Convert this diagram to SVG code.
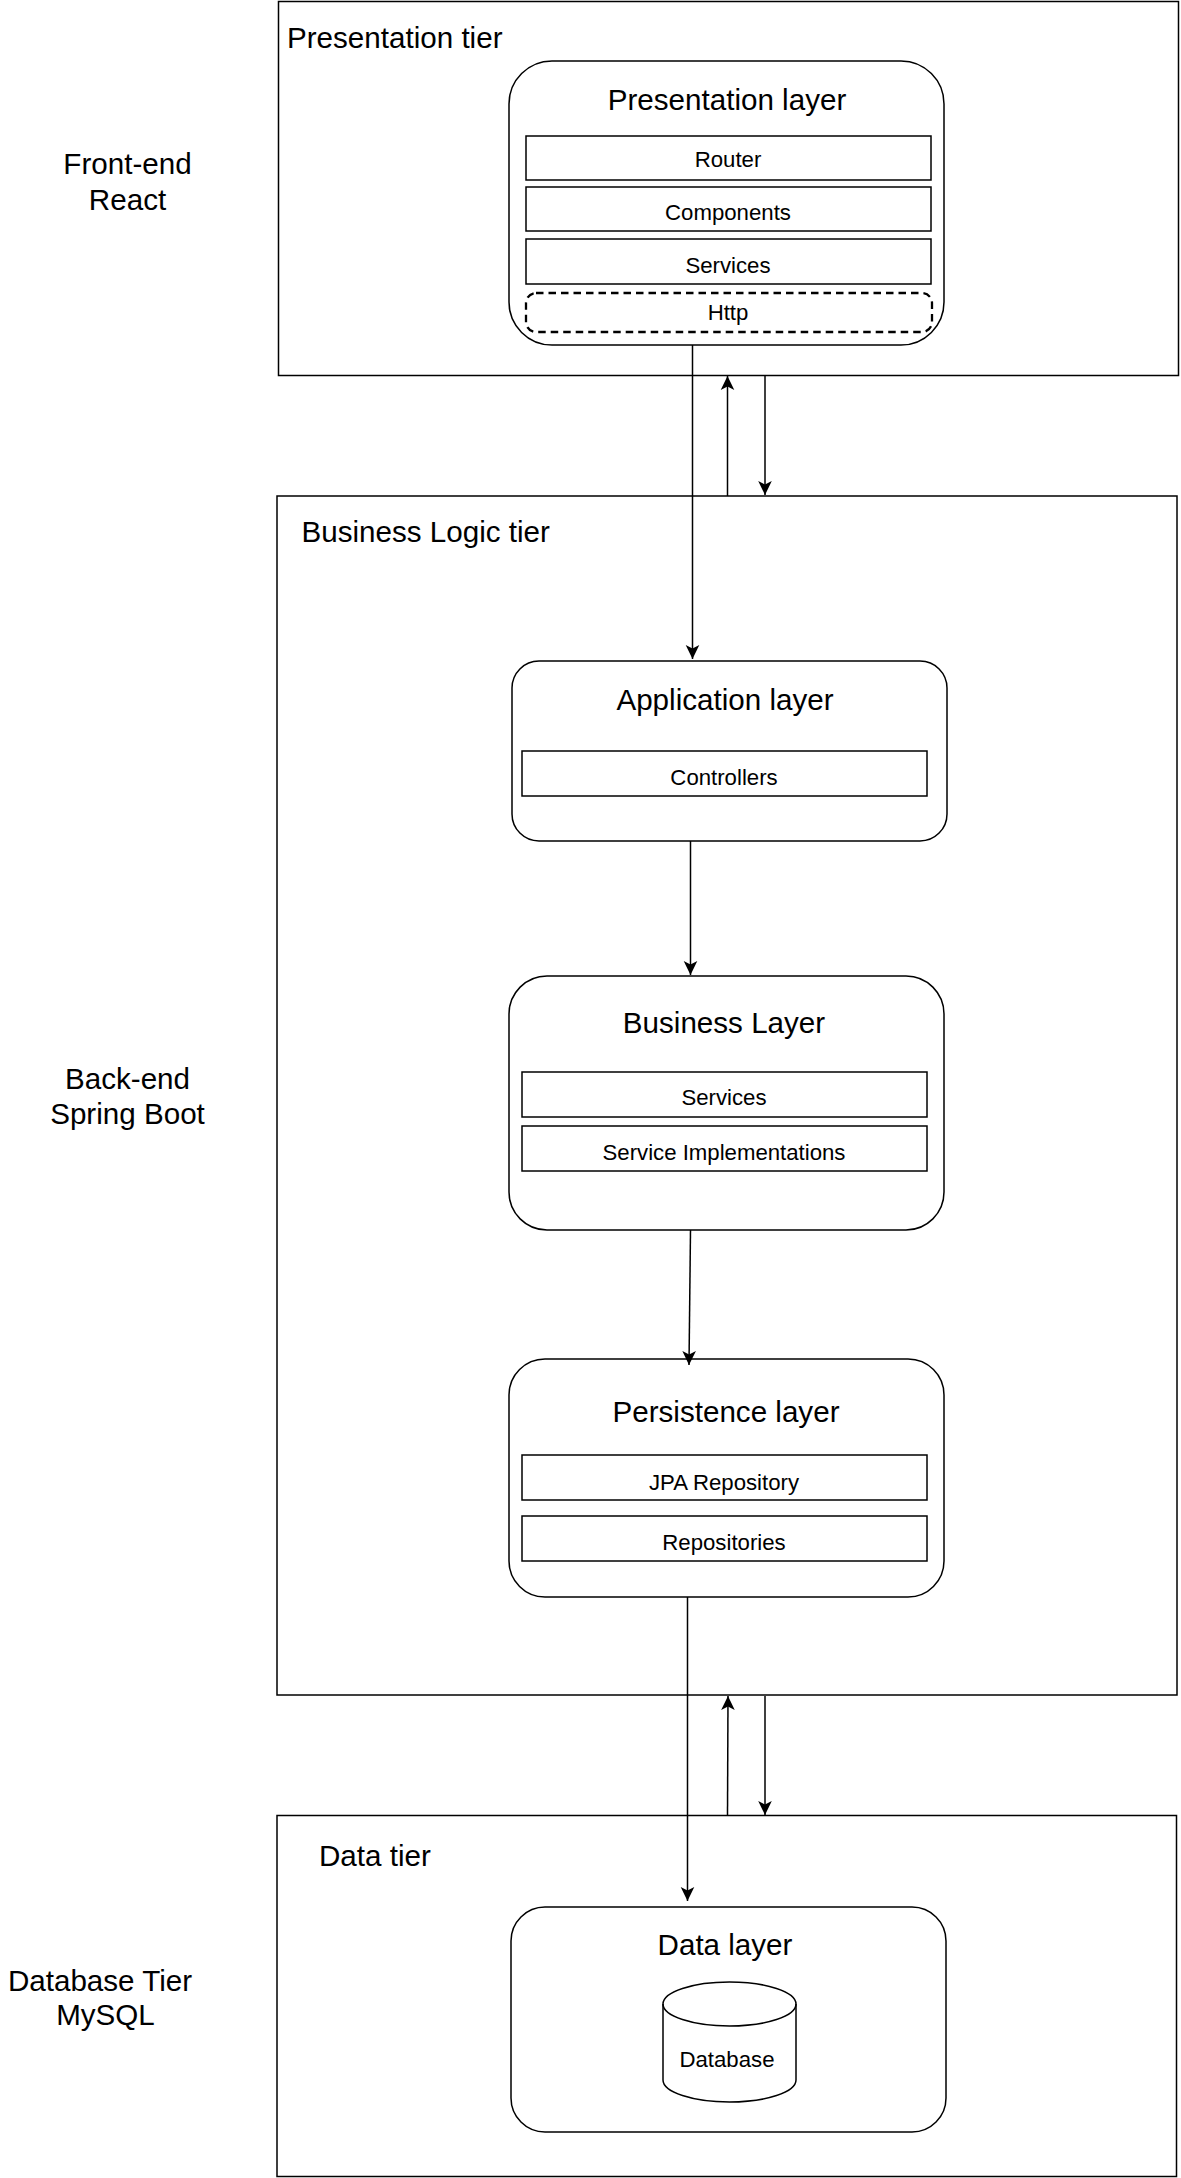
<svg xmlns="http://www.w3.org/2000/svg" width="1181" height="2178" viewBox="0 0 1181 2178">
<defs>
<marker id="arr" markerUnits="userSpaceOnUse" markerWidth="16" markerHeight="16" viewBox="-15 -8 16 16" refX="0" refY="0" orient="auto">
<path d="M0,0 L-14,-6.8 L-10.5,0 L-14,6.8 Z" fill="#000"/>
</marker>
</defs>
<style>
.tier{fill:#fff;stroke:#000;stroke-width:1.5}
.layer{fill:#fff;stroke:#000;stroke-width:1.5}
.sub{fill:#fff;stroke:#000;stroke-width:1.5}
.dash{fill:#fff;stroke:#000;stroke-width:2.3;stroke-dasharray:7.5 5}
.t{font-family:"Liberation Sans",Arial,sans-serif;fill:#000}
.big{font-size:29.6px}
.small{font-size:22.2px}
.c{text-anchor:middle}
.conn{fill:none;stroke:#000;stroke-width:1.5}
</style>
<rect width="1181" height="2178" fill="#fff"/>

<g id="presentation-tier">
<rect class="tier" x="278.5" y="1.5" width="900" height="374"/>
<text class="t big" x="287" y="47.5">Presentation tier</text>
</g>
<g id="business-tier">
<rect class="tier" x="277" y="496" width="900" height="1199"/>
<text class="t big" x="301.5" y="542">Business Logic tier</text>
</g>
<g id="data-tier">
<rect class="tier" x="277" y="1815.5" width="899.5" height="361"/>
<text class="t big" x="319" y="1866">Data tier</text>
</g>

<g id="label-frontend">
<text class="t big c" x="127.5" y="173.5">Front-end</text>
<text class="t big c" x="127.5" y="209.5">React</text>
</g>
<g id="label-backend">
<text class="t big c" x="127.5" y="1088.5">Back-end</text>
<text class="t big c" x="127.5" y="1123.5">Spring Boot</text>
</g>
<g id="label-database">
<text class="t big c" x="100" y="1991">Database Tier</text>
<text class="t big c" x="105.5" y="2025">MySQL</text>
</g>

<g id="presentation-layer">
<rect class="layer" x="509" y="61" width="435" height="284" rx="43" ry="43"/>
<text class="t big c" x="727" y="109.5">Presentation layer</text>
<rect class="sub" x="526" y="136" width="405" height="44"/>
<text class="t small c" x="728" y="166.5">Router</text>
<rect class="sub" x="526" y="187" width="405" height="44"/>
<text class="t small c" x="728" y="220">Components</text>
<rect class="sub" x="526" y="239" width="405" height="45"/>
<text class="t small c" x="728" y="272.5">Services</text>
<rect class="dash" x="526" y="293" width="406" height="39" rx="10" ry="10"/>
<text class="t small c" x="728" y="320">Http</text>
</g>

<g id="application-layer">
<rect class="layer" x="512" y="661" width="435" height="180" rx="27" ry="27"/>
<text class="t big c" x="725" y="710">Application layer</text>
<rect class="sub" x="522" y="751" width="405" height="45"/>
<text class="t small c" x="724" y="785">Controllers</text>
</g>

<g id="business-layer">
<rect class="layer" x="509" y="976" width="435" height="254" rx="38" ry="38"/>
<text class="t big c" x="724" y="1033">Business Layer</text>
<rect class="sub" x="522" y="1072" width="405" height="45"/>
<text class="t small c" x="724" y="1105">Services</text>
<rect class="sub" x="522" y="1126" width="405" height="45"/>
<text class="t small c" x="724" y="1160">Service Implementations</text>
</g>

<g id="persistence-layer">
<rect class="layer" x="509" y="1359" width="435" height="238" rx="36" ry="36"/>
<text class="t big c" x="726" y="1422">Persistence layer</text>
<rect class="sub" x="522" y="1455" width="405" height="45"/>
<text class="t small c" x="724" y="1490">JPA Repository</text>
<rect class="sub" x="522" y="1516" width="405" height="45"/>
<text class="t small c" x="724" y="1550">Repositories</text>
</g>

<g id="data-layer">
<rect class="layer" x="511" y="1907" width="435" height="225" rx="34" ry="34"/>
<text class="t big c" x="725" y="1955">Data layer</text>
</g>
<g id="database">
<path class="layer" d="M663,2004 A66.5,22 0 0 1 796,2004 L796,2080 A66.5,22 0 0 1 663,2080 Z"/>
<path class="conn" d="M663,2004 A66.5,22 0 0 0 796,2004"/>
<text class="t small c" x="727" y="2066.5">Database</text>
</g>

<g id="connectors">
<line class="conn" x1="692.5" y1="345" x2="692.5" y2="659" marker-end="url(#arr)"/>
<line class="conn" x1="727.5" y1="496" x2="727.5" y2="376" marker-end="url(#arr)"/>
<line class="conn" x1="765" y1="376" x2="765" y2="495" marker-end="url(#arr)"/>
<line class="conn" x1="690.5" y1="841" x2="690.5" y2="975" marker-end="url(#arr)"/>
<line class="conn" x1="690.5" y1="1230" x2="689" y2="1365" marker-end="url(#arr)"/>
<line class="conn" x1="687.5" y1="1597" x2="687.5" y2="1901" marker-end="url(#arr)"/>
<line class="conn" x1="727.5" y1="1815" x2="728" y2="1696" marker-end="url(#arr)"/>
<line class="conn" x1="765" y1="1696" x2="765" y2="1815" marker-end="url(#arr)"/>
</g>
</svg>
